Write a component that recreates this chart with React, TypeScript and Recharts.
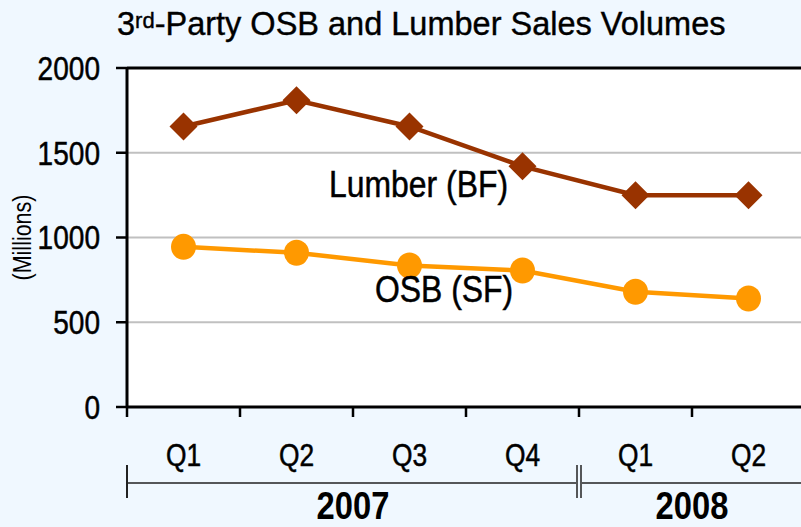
import {
  LineChart,
  Line,
  XAxis,
  YAxis,
  CartesianGrid,
  ReferenceLine,
} from "recharts";

const PERIODS = ["2007 Q1", "2007 Q2", "2007 Q3", "2007 Q4", "2008 Q1", "2008 Q2"];
const LUMBER = [1655, 1810, 1655, 1420, 1250, 1250];
const OSB = [945, 910, 835, 805, 680, 640];
const Y_TICKS = [0, 500, 1000, 1500, 2000];
const YEAR_GROUPS = [
  { label: "2007", start: 0, count: 4 },
  { label: "2008", start: 4, count: 2 },
];

const data = PERIODS.map((p, i) => ({
  period: p,
  pos: i + 0.5,
  lumber: LUMBER[i],
  osb: OSB[i],
}));

const EDGE_TICKS = PERIODS.map((_, i) => i).concat(PERIODS.length);
const YEAR_STARTS = YEAR_GROUPS.map((g) => g.start);
const YEAR_CENTERS = YEAR_GROUPS.map((g) => g.start + g.count / 2);

const FONT = '"Liberation Sans", Arial, sans-serif';
const NARROW = 0.85;
const BG = "#f0f8ff";
const BROWN = "#993300";
const ORANGE = "#ff9900";

const Diamond = (props: any) => {
  const { cx, cy } = props;
  if (cx == null || cy == null) return null;
  const s = 14;
  return (
    <polygon
      points={`${cx},${cy - s} ${cx + s},${cy} ${cx},${cy + s} ${cx - s},${cy}`}
      fill={BROWN}
    />
  );
};

const Dot = (props: any) => {
  const { cx, cy } = props;
  if (cx == null || cy == null) return null;
  return <ellipse cx={cx} cy={cy} rx={12.5} ry={13} fill={ORANGE} />;
};

const YTick = (props: any) => {
  const { x, y, payload } = props;
  return (
    <text
      transform={`translate(${x},${y}) scale(${NARROW},1)`}
      textAnchor="end"
      dy="0.36em"
      fontFamily={FONT}
      fontSize={33}
      fill="#000"
      stroke="#000"
      strokeWidth={0.5}
    >
      {payload.value}
    </text>
  );
};

const QTick = (props: any) => {
  const { x, y, payload } = props;
  return (
    <text
      transform={`translate(${x},${y}) scale(${NARROW},1)`}
      textAnchor="middle"
      dy="0.72em"
      fontFamily={FONT}
      fontSize={31}
      fill="#000"
      stroke="#000"
      strokeWidth={0.5}
    >
      {String(payload.value).split(" ")[1]}
    </text>
  );
};

const YearTick = (props: any) => {
  const { x, y, payload } = props;
  const v = payload.value;
  if (YEAR_STARTS.includes(v)) {
    if (v === 0) {
      return <line x1={x} x2={x} y1={y - 18} y2={y + 15} stroke="#222" strokeWidth={2} />;
    }
    return (
      <g>
        <rect x={x - 3} y={y - 18} width={6} height={33} fill={BG} />
        <line x1={x - 2} x2={x - 2} y1={y - 18} y2={y + 15} stroke="#222" strokeWidth={1.5} />
        <line x1={x + 2} x2={x + 2} y1={y - 18} y2={y + 15} stroke="#222" strokeWidth={1.5} />
      </g>
    );
  }
  const g = YEAR_GROUPS[YEAR_CENTERS.indexOf(v)];
  if (!g) return null;
  return (
    <text
      transform={`translate(${x},${y + 36}) scale(0.84,1)`}
      textAnchor="middle"
      fontFamily={FONT}
      fontSize={39}
      fontWeight="bold"
      fill="#000"
    >
      {g.label}
    </text>
  );
};

const MillionsLabel = (props: any) => {
  const vb = props.viewBox || {};
  const cx = 22;
  const cy = (vb.y ?? 68) + (vb.height ?? 339) / 2;
  return (
    <text
      transform={`translate(${cx},${cy}) rotate(-90) scale(0.86,1)`}
      textAnchor="middle"
      dy="0.35em"
      fontFamily={FONT}
      fontSize={25}
      fill="#000"
    >
      (Millions)
    </text>
  );
};

const narrowLabel = {
  position: "absolute" as const,
  fontSize: 36,
  lineHeight: 1,
  whiteSpace: "nowrap" as const,
  color: "#000",
  transform: "scaleX(0.886)",
  transformOrigin: "left top",
  WebkitTextStroke: "0.5px #000",
};

export default function App() {
  return (
    <div
      style={{
        position: "relative",
        width: 801,
        height: 527,
        overflow: "hidden",
        background: BG,
        fontFamily: FONT,
      }}
    >
      <style>{`body{margin:0}`}</style>
      <div
        style={{
          position: "absolute",
          left: 117,
          top: 8,
          fontSize: 32.5,
          lineHeight: 1,
          whiteSpace: "nowrap",
          color: "#000",
          WebkitTextStroke: "0.4px #000",
        }}
      >
        3<sup style={{ fontSize: 22, verticalAlign: "top", lineHeight: 1, position: "relative", top: 2 }}>rd</sup>
        -Party OSB and Lumber Sales Volumes
      </div>
      <LineChart
        width={810}
        height={527}
        data={data}
        margin={{ top: 68, right: 5, left: 0, bottom: 0 }}
      >
        <CartesianGrid
          vertical={false}
          fill="#fff"
          stroke="#c0c0c0"
          strokeWidth={2}
          horizontalValues={[500, 1000, 1500]}
        />
        <YAxis
          width={127}
          domain={[0, 2000]}
          ticks={Y_TICKS}
          interval={0}
          axisLine={{ stroke: "#000", strokeWidth: 3 }}
          tickLine={{ stroke: "#000", strokeWidth: 2.5 }}
          tickSize={11}
          tickMargin={16}
          tick={<YTick />}
          label={<MillionsLabel />}
        />
        <XAxis
          xAxisId="edge"
          type="number"
          dataKey="pos"
          domain={[0, PERIODS.length]}
          ticks={EDGE_TICKS}
          interval={0}
          allowDataOverflow
          height={10}
          tickSize={10}
          axisLine={{ stroke: "#000", strokeWidth: 3 }}
          tickLine={{ stroke: "#000", strokeWidth: 2.5 }}
          tickFormatter={() => ""}
        />
        <XAxis
          xAxisId="q"
          dataKey="period"
          type="category"
          scale="band"
          interval={0}
          height={66}
          axisLine={false}
          tickLine={false}
          tickSize={0}
          tickMargin={27}
          tick={<QTick />}
        />
        <XAxis
          xAxisId="year"
          type="number"
          dataKey="pos"
          domain={[0, PERIODS.length]}
          ticks={[...YEAR_STARTS, ...YEAR_CENTERS]}
          interval={0}
          allowDataOverflow
          height={44}
          tickSize={0}
          tickMargin={0}
          tickLine={false}
          axisLine={{ stroke: "#222", strokeWidth: 1.5 }}
          tick={<YearTick />}
        />
        <ReferenceLine xAxisId="q" y={2000} stroke="#000" strokeWidth={3} />
        <Line
          xAxisId="q"
          dataKey="lumber"
          stroke={BROWN}
          strokeWidth={4.5}
          dot={<Diamond />}
          activeDot={false}
          isAnimationActive={false}
        />
        <Line
          xAxisId="q"
          dataKey="osb"
          stroke={ORANGE}
          strokeWidth={4.5}
          dot={<Dot />}
          activeDot={false}
          isAnimationActive={false}
        />
      </LineChart>
      <div style={{ ...narrowLabel, left: 329, top: 167 }}>Lumber (BF)</div>
      <div style={{ ...narrowLabel, left: 375, top: 272 }}>OSB (SF)</div>
    </div>
  );
}
